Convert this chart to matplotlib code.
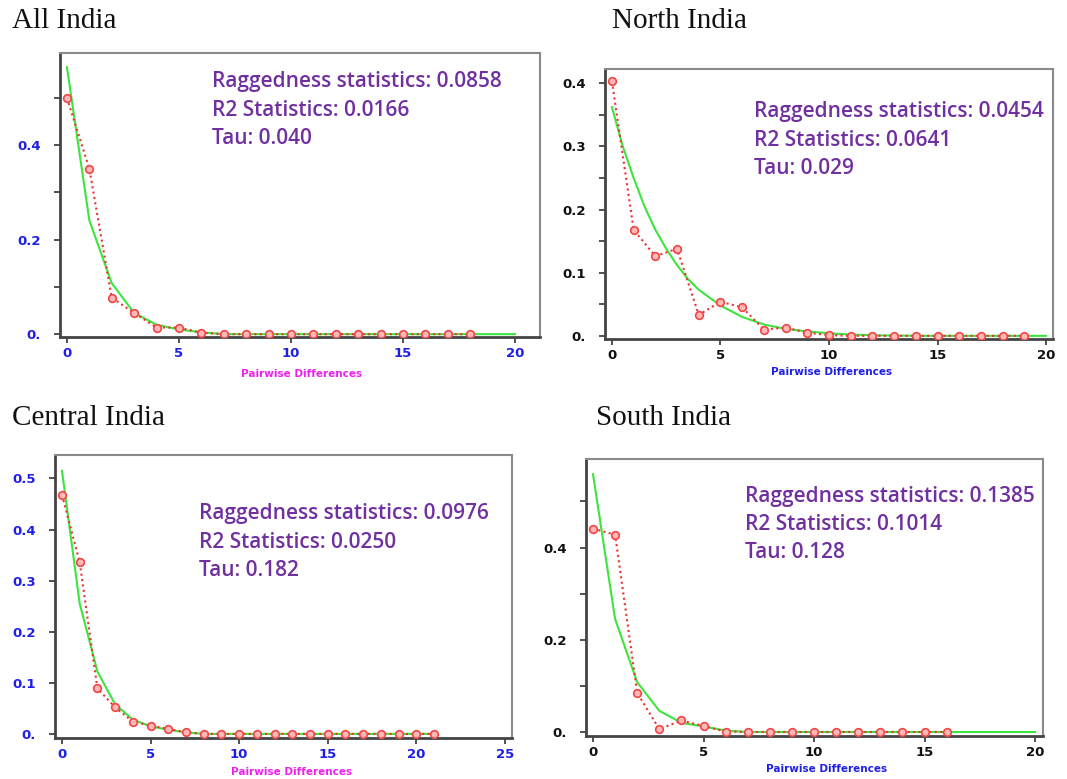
import matplotlib
matplotlib.use("Agg")
import matplotlib.pyplot as plt
from matplotlib.ticker import MultipleLocator

# ---------------- data ----------------
titles = ["All India", "North India", "Central India", "South India"]

stats_text = [
    ["Raggedness statistics: 0.0858", "R2 Statistics: 0.0166", "Tau: 0.040"],
    ["Raggedness statistics: 0.0454", "R2 Statistics: 0.0641", "Tau: 0.029"],
    ["Raggedness statistics: 0.0976", "R2 Statistics: 0.0250", "Tau: 0.182"],
    ["Raggedness statistics: 0.1385", "R2 Statistics: 0.1014", "Tau: 0.128"],
]

# observed (red dotted)
obs_x_all = list(range(0, 19))
obs_y_all = [0.50, 0.35, 0.077, 0.045, 0.014, 0.014, 0.003] + [0.0] * 12

obs_x_north = list(range(0, 20))
obs_y_north = [0.403, 0.168, 0.126, 0.138, 0.033, 0.054, 0.045, 0.010, 0.013,
               0.005, 0.001] + [0.0] * 9

obs_x_central = list(range(0, 22))
obs_y_central = [0.468, 0.336, 0.089, 0.052, 0.024, 0.016, 0.010, 0.003] + [0.0] * 14

obs_x_south = list(range(0, 17))
obs_y_south = [0.441, 0.428, 0.085, 0.006, 0.025, 0.013, 0.001] + [0.0] * 10

# expected (green)
exp_x_all = [0, 1, 2, 3, 4, 5, 6, 7, 20]
exp_y_all = [0.565, 0.241, 0.108, 0.045, 0.020, 0.010, 0.004, 0.0, 0.0]

exp_x_north = [0, 0.5, 1, 1.5, 2, 2.5, 3, 3.5, 4, 5, 6, 7, 8, 9, 10, 11, 12, 13, 14, 20]
exp_y_north = [0.362, 0.300, 0.250, 0.205, 0.168, 0.138, 0.112, 0.090, 0.073, 0.048,
               0.030, 0.018, 0.011, 0.007, 0.004, 0.002, 0.001, 0.0005, 0.0, 0.0]

exp_x_central = [0, 1, 2, 3, 4, 5, 6, 7, 8, 21]
exp_y_central = [0.515, 0.255, 0.122, 0.058, 0.028, 0.015, 0.008, 0.003, 0.0, 0.0]

exp_x_south = [0, 1, 2, 3, 4, 5, 6, 7, 20]
exp_y_south = [0.559, 0.245, 0.108, 0.046, 0.020, 0.012, 0.003, 0.0, 0.0]

obs_x = [obs_x_all, obs_x_north, obs_x_central, obs_x_south]
obs_y = [obs_y_all, obs_y_north, obs_y_central, obs_y_south]
exp_x = [exp_x_all, exp_x_north, exp_x_central, exp_x_south]
exp_y = [exp_y_all, exp_y_north, exp_y_central, exp_y_south]

x_ticks = [[0, 5, 10, 15, 20], [0, 5, 10, 15, 20], [0, 5, 10, 15, 20, 25], [0, 5, 10, 15, 20]]
y_ticks = [[0, 0.2, 0.4], [0, 0.1, 0.2, 0.3, 0.4], [0, 0.1, 0.2, 0.3, 0.4, 0.5], [0, 0.2, 0.4]]
y_ticklabels = [["0.", "0.2", "0.4"], ["0.", "0.1", "0.2", "0.3", "0.4"],
                ["0.", "0.1", "0.2", "0.3", "0.4", "0.5"], ["0.", "0.2", "0.4"]]
x_label = "Pairwise Differences"

# ---------------- layout / styles ----------------
W, H = 1067, 779
boxes_px = [(60, 540, 53, 337), (605, 1053, 69, 339), (55, 512, 455, 738), (586, 1043, 459, 736)]
xlims = [(-0.31, 21.12), (-0.32, 20.32), (-0.395, 25.4), (-0.317, 20.36)]
ylims = [(-0.006, 0.595), (-0.005, 0.4225), (-0.008, 0.546), (-0.0087, 0.592)]
minor_y = [0.1, 0.05, None, 0.1]
tick_col = ["#1f1fe8", "#111111", "#1f1fe8", "#111111"]
ytick_col = ["#1f1fe8", "#111111", "#1f1fe8", "#111111"]
xlabel_col = ["#ee22ee", "#1f1fe8", "#ee22ee", "#1f1fe8"]
title_pos = [(12, 21), (612, 21), (12, 418), (596, 418)]
stat_pos = [(212, 82), (754, 112), (199, 514), (745, 496)]
xlabel_pos = [(302, 374), (832, 372), (292, 772), (827, 769)]
line_gap = 28.5

purple = "#7030A0"
green = "#3ee43e"
red = "#f03030"

fig = plt.figure(figsize=(W / 100, H / 100), dpi=100)

for i in range(4):
    l, r, t, b = boxes_px[i]
    ax = fig.add_axes([l / W, 1 - b / H, (r - l) / W, (b - t) / H])
    ax.plot(exp_x[i], exp_y[i], color=green, lw=1.5, zorder=2)
    ax.plot(obs_x[i], obs_y[i], color=red, lw=1.5, ls=(0, (1.0, 1.6)), marker="o",
            markersize=5.5, markerfacecolor="#ffb8b8", markeredgecolor="#f04545",
            markeredgewidth=1.2, zorder=3)
    ax.set_xlim(*xlims[i])
    ax.set_ylim(*ylims[i])
    ax.set_xticks(x_ticks[i])
    ax.set_yticks(y_ticks[i])
    ax.set_yticklabels(y_ticklabels[i])
    if minor_y[i] is not None:
        ax.yaxis.set_minor_locator(MultipleLocator(minor_y[i]))
    ax.tick_params(axis="both", which="both", direction="out", length=4, width=1.2,
                   color="#333333")
    ax.tick_params(axis="x", labelcolor=tick_col[i], labelsize=9.5, pad=3)
    ax.tick_params(axis="y", labelcolor=ytick_col[i], labelsize=9.5, pad=10)
    for lab in ax.get_xticklabels() + ax.get_yticklabels():
        lab.set_fontweight("bold")
    ax.spines["left"].set_color("#444444")
    ax.spines["bottom"].set_color("#444444")
    ax.spines["left"].set_linewidth(2)
    ax.spines["bottom"].set_linewidth(2)
    ax.spines["top"].set_color("#8a8a8a")
    ax.spines["right"].set_color("#8a8a8a")
    ax.spines["top"].set_linewidth(1.5)
    ax.spines["right"].set_linewidth(1.5)

    tx, ty = title_pos[i]
    fig.text(tx / W, 1 - ty / H, titles[i], family="Liberation Serif", fontsize=21,
             va="center", ha="left", color="#111111")
    sx, sy = stat_pos[i]
    for k, s in enumerate(stats_text[i]):
        fig.text(sx / W, 1 - (sy + k * line_gap) / H, s, family="Open Sans", fontsize=15,
                 fontweight="semibold", color=purple, va="center", ha="left")
    lx, ly = xlabel_pos[i]
    fig.text(lx / W, 1 - ly / H, x_label, fontsize=7.5, fontweight="bold",
             color=xlabel_col[i], ha="center", va="center")

fig.savefig("out.png", dpi=100)
